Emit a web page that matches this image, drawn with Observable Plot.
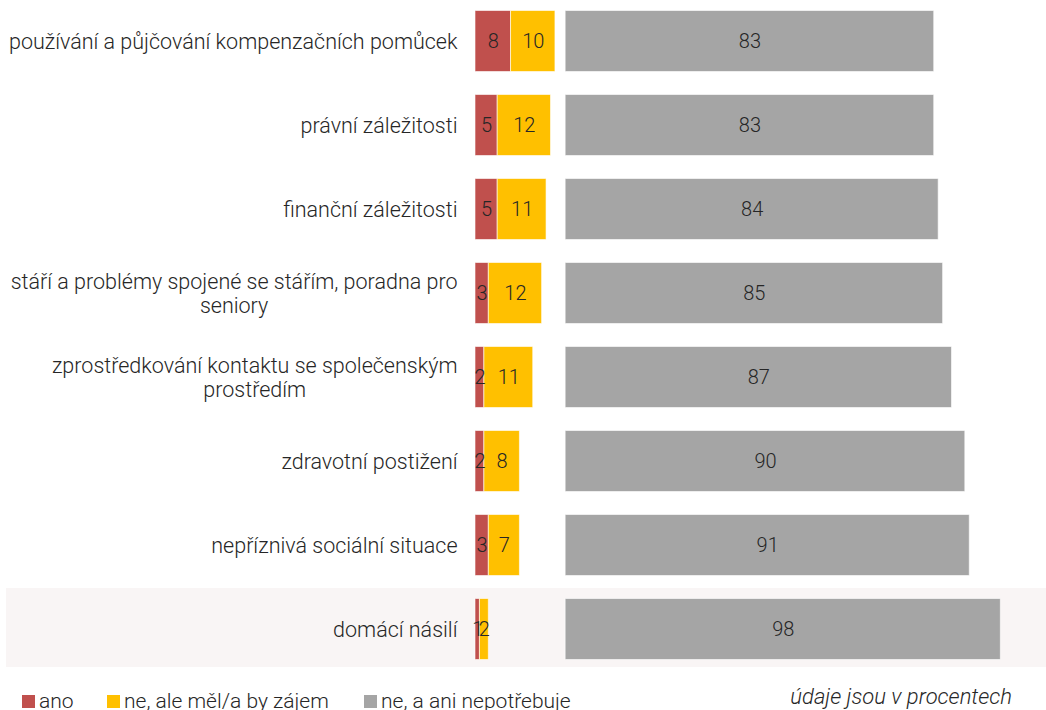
<!DOCTYPE html>
<html>
<head>
<meta charset="utf-8">
<script src="https://cdn.jsdelivr.net/npm/d3@7"></script>
<script src="https://cdn.jsdelivr.net/npm/@observablehq/plot@0.6"></script>
<style>
  html, body { margin: 0; padding: 0; background: #fff; }
  body { width: 1046px; height: 710px; overflow: hidden; font-family: Roboto, "Noto Sans", sans-serif; }
  #legend { position: relative; height: 38px; font-family: Roboto, sans-serif; font-weight: 300; color: #262626; }
  .item { position: absolute; top: 18px; font-size: 21px; line-height: 22px; display: flex; align-items: center; white-space: nowrap; }
  .sw { width: 13px; height: 13px; margin-right: 4px; display: inline-block; }
  #note { position: absolute; right: 34px; top: 12px; font-size: 22px; font-style: italic; font-weight: 300; color: #262626; white-space: nowrap; }
</style>
</head>
<body>
<div id="chart"></div>
<div id="legend"></div>
<script>
const categories = [
  "používání a půjčování kompenzačních pomůcek",
  "právní záležitosti",
  "finanční záležitosti",
  "stáří a problémy spojené se stářím, poradna pro seniory",
  "zprostředkování kontaktu se společenským prostředím",
  "zdravotní postižení",
  "nepříznivá sociální situace",
  "domácí násilí"
];
const tickLabels = [
  "používání a půjčování kompenzačních pomůcek",
  "právní záležitosti",
  "finanční záležitosti",
  "stáří a problémy spojené se stářím, poradna pro\nseniory",
  "zprostředkování kontaktu se společenským\nprostředím",
  "zdravotní postižení",
  "nepříznivá sociální situace",
  "domácí násilí"
];
const seriesNames = ["ano", "ne, ale měl/a by zájem", "ne, a ani nepotřebuje"];
const ano = [8, 5, 5, 3, 2, 2, 3, 1];
const zajem = [10, 12, 11, 12, 11, 8, 7, 2];
const nepotrebuje = [83, 83, 84, 85, 87, 90, 91, 98];
const highlighted = ["domácí násilí"];
const note = "údaje jsou v procentech";

const colors = ["#C0504D", "#FFC000", "#A5A5A5"];
const GAP = 20.3;

const leftRows = categories.flatMap((c, i) => [
  {cat: c, series: seriesNames[0], x1: 0, x2: ano[i], v: ano[i]},
  {cat: c, series: seriesNames[1], x1: ano[i], x2: ano[i] + zajem[i], v: zajem[i]}
]);
const rightRows = categories.map((c, i) => ({cat: c, series: seriesNames[2], x1: GAP, x2: GAP + nepotrebuje[i], v: nepotrebuje[i]}));
const allRows = leftRows.concat(rightRows);
const labelOf = new Map(categories.map((c, i) => [c, tickLabels[i]]));

const MARGIN_LEFT = 475, MARGIN_RIGHT = 47;

const chart = Plot.plot({
  width: 1046,
  height: 672,
  marginLeft: MARGIN_LEFT,
  marginRight: MARGIN_RIGHT,
  marginTop: 0,
  marginBottom: 0,
  x: {domain: [0, 118], axis: null},
  y: {domain: categories, range: [-2, 671], padding: 0, axis: null},
  color: {domain: seriesNames, range: colors},
  style: {fontFamily: "Roboto, sans-serif", background: "transparent", overflow: "visible"},
  marks: [
    Plot.cell(highlighted, {y: d => d, fill: "#f9f5f5", insetLeft: -(MARGIN_LEFT - 6), insetRight: -MARGIN_RIGHT, insetTop: 1, insetBottom: 4}),
    Plot.barX(allRows, {y: "cat", x1: "x1", x2: "x2", fill: "series", insetTop: 11.5, insetBottom: 11.5, stroke: "#fff", strokeOpacity: 0.6, strokeWidth: 1}),
    Plot.text(allRows, {y: "cat", x: d => (d.x1 + d.x2) / 2, text: d => String(d.v), fontSize: 20, fontWeight: 300, fill: "#262626"}),
    Plot.text(categories, {y: d => d, frameAnchor: "left", dx: -18, text: d => labelOf.get(d), textAnchor: "end", fontSize: 21.5, fontWeight: 300, lineHeight: 1.12, fill: "#262626"})
  ]
});
document.getElementById("chart").appendChild(chart);

// center-align wrapped category labels (block right-aligned)
chart.querySelectorAll("text").forEach(t => {
  const spans = t.querySelectorAll("tspan");
  if (spans.length > 1) {
    let maxW = 0;
    spans.forEach(s => { maxW = Math.max(maxW, s.getComputedTextLength()); });
    t.setAttribute("text-anchor", "middle");
    spans.forEach(s => s.setAttribute("x", -maxW / 2));
  }
});

const legend = document.getElementById("legend");
const lefts = [22, 107, 364];
seriesNames.forEach((name, i) => {
  const it = document.createElement("div");
  it.className = "item";
  it.style.left = lefts[i] + "px";
  it.innerHTML = `<span class="sw" style="background:${colors[i]}"></span><span>${name}</span>`;
  legend.appendChild(it);
});
const n = document.createElement("div");
n.id = "note";
n.textContent = note;
legend.appendChild(n);
</script>
</body>
</html>
